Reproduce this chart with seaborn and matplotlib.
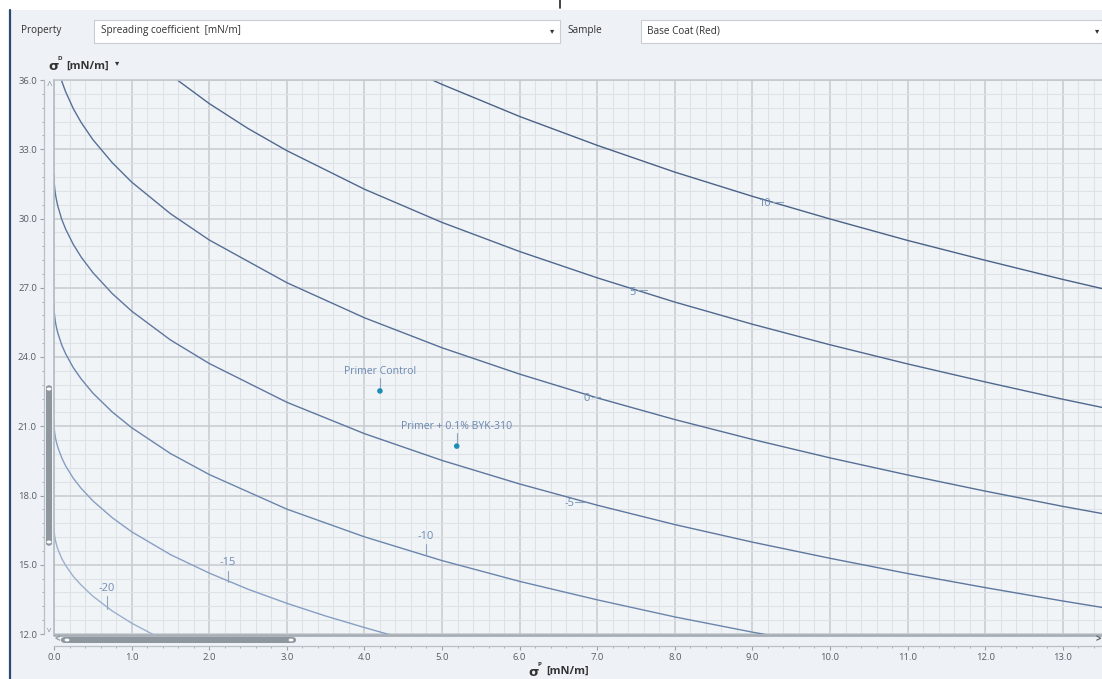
import matplotlib
matplotlib.use("Agg")
import matplotlib.pyplot as plt
import seaborn as sns
from matplotlib.patches import Rectangle, FancyBboxPatch, Circle
from matplotlib.lines import Line2D
from matplotlib.ticker import MultipleLocator, FormatStrFormatter

# ---------------- data ----------------
c10_x = [4.5, 5, 6, 7, 8, 9, 10, 11, 12, 13, 13.6]
c10_y = [36.57, 35.81, 34.42, 33.17, 32.01, 30.96, 29.98, 29.05, 28.19, 27.36, 26.89]

c5_x = [1.25, 1.5, 2, 2.5, 3, 4, 5, 6, 7, 8, 9, 10, 11, 12, 13, 13.6]
c5_y = [36.93, 36.22, 34.98, 33.90, 32.94, 31.27, 29.83, 28.57, 27.43, 26.38, 25.42, 24.53, 23.70, 22.92, 22.17, 21.75]

c0_x = [0.05, 0.1, 0.15, 0.25, 0.35, 0.5, 0.75, 1, 1.5, 2, 3, 4, 5, 6, 7, 8, 9, 10, 11, 12, 13, 13.6]
c0_y = [36.57, 35.95, 35.49, 34.75, 34.16, 33.42, 32.42, 31.58, 30.21, 29.07, 27.22, 25.70, 24.40, 23.26,
        22.23, 21.29, 20.43, 19.63, 18.89, 18.19, 17.53, 17.16]

cm5_x = [0, 0.002, 0.005, 0.01, 0.02, 0.035, 0.05, 0.1, 0.15, 0.25, 0.35, 0.5, 0.75, 1, 1.5, 2, 3, 4, 5,
         6, 7, 8, 9, 10, 11, 12, 13, 13.6]
cm5_y = [31.90, 31.62, 31.46, 31.28, 31.02, 30.75, 30.53, 29.96, 29.54, 28.87, 28.33, 27.66, 26.75, 25.99,
         24.74, 23.72, 22.04, 20.68, 19.52, 18.50, 17.58, 16.74, 15.98, 15.28, 14.62, 14.01, 13.43, 13.10]

cm10_x = [0, 0.002, 0.005, 0.01, 0.02, 0.035, 0.05, 0.1, 0.15, 0.25, 0.35, 0.5, 0.75, 1, 1.5, 2, 3, 4, 5,
          6, 7, 8, 9, 9.3]
cm10_y = [26.28, 26.02, 25.88, 25.72, 25.48, 25.23, 25.03, 24.52, 24.14, 23.53, 23.05, 22.44, 21.62, 20.94,
          19.82, 18.91, 17.41, 16.21, 15.18, 14.28, 13.48, 12.74, 12.08, 11.90]

cm15_x = [0, 0.002, 0.005, 0.01, 0.02, 0.035, 0.05, 0.1, 0.15, 0.25, 0.35, 0.5, 0.75, 1, 1.5, 2, 2.5, 3,
          3.5, 4, 4.4]
cm15_y = [21.20, 20.97, 20.84, 20.69, 20.48, 20.26, 20.08, 19.63, 19.28, 18.74, 18.31, 17.77, 17.04, 16.43,
          15.44, 14.64, 13.94, 13.33, 12.78, 12.28, 11.90]

cm20_x = [0, 0.002, 0.005, 0.01, 0.02, 0.035, 0.05, 0.1, 0.15, 0.25, 0.35, 0.5, 0.75, 1, 1.3]
cm20_y = [16.66, 16.46, 16.35, 16.22, 16.03, 15.83, 15.67, 15.27, 14.97, 14.49, 14.12, 13.64, 13.00, 12.47, 11.94]

contour_levels = ["10", "5", "0", "-5", "-10", "-15", "-20"]

sample_names = ["Primer Control", "Primer + 0.1% BYK-310"]
sample_x = [4.20, 5.19]
sample_y = [22.53, 20.14]

x_ticks = [0, 1, 2, 3, 4, 5, 6, 7, 8, 9, 10, 11, 12, 13]
y_ticks = [12, 15, 18, 21, 24, 27, 30, 33, 36]

# ---------------- styling / layout ----------------
W, H = 1102, 679
sns.set_theme(style="white")
plt.rcParams['font.family'] = ['Open Sans', 'DejaVu Sans']

BG = "#eef1f5"
fig = plt.figure(figsize=(W / 100, H / 100), dpi=100, facecolor=BG)
PT = 0.72  # points per pixel at dpi 100


def fx(px):
    return px / W


def fy(py):
    return 1 - py / H


ax = fig.add_axes([fx(54), fy(634), fx(1102) - fx(54), fy(80) - fy(634)])
ax.set_facecolor("#f1f4f7")
ax.set_xlim(0, (1102 - 54) / 77.6)
ax.set_ylim(12, 36)

ax.xaxis.set_minor_locator(MultipleLocator(0.2))
ax.yaxis.set_minor_locator(MultipleLocator(0.6))
ax.set_xticks(x_ticks)
ax.set_yticks(y_ticks)
ax.xaxis.set_major_formatter(FormatStrFormatter("%.1f"))
ax.yaxis.set_major_formatter(FormatStrFormatter("%.1f"))
ax.grid(which="major", color="#c6cbd0", lw=1.1)
ax.grid(which="minor", color="#dde2e7", lw=0.8)
ax.set_axisbelow(True)

ax.spines["right"].set_visible(False)
ax.spines["top"].set_color("#c2c8ce")
ax.spines["top"].set_linewidth(1.2)
ax.spines["left"].set_position(("outward", 10 * PT))
ax.spines["bottom"].set_position(("outward", 12 * PT))
for s in ["left", "bottom"]:
    ax.spines[s].set_color("#b8bfc6")
    ax.spines[s].set_linewidth(0.9)
ax.tick_params(which="major", direction="out", length=4 * PT, width=0.8, color="#9aa2aa",
               labelsize=6.8, labelcolor="#565e67", pad=3 * PT)
ax.tick_params(which="minor", direction="out", length=2.5 * PT, width=0.7, color="#a8b0b8")
ax.tick_params(axis="y", which="both", left=True)
ax.tick_params(axis="x", which="both", bottom=True)

# contour curves
curves = [(c10_x, c10_y), (c5_x, c5_y), (c0_x, c0_y), (cm5_x, cm5_y),
          (cm10_x, cm10_y), (cm15_x, cm15_y), (cm20_x, cm20_y)]
curve_colors = ["#4a6286", "#4f688d", "#556f95", "#5d779e", "#6a85ac", "#869fc2", "#9bb0ce"]
for (cx, cy), col in zip(curves, curve_colors):
    sns.lineplot(x=cx, y=cy, ax=ax, color=col, lw=1.0, sort=False, estimator=None)
ax.set_xlabel("")
ax.set_ylabel("")

# contour labels with short leader lines
lab_col = "#6f8db5"
lead_col = "#8ea3bd"
label_pos = [(9.16, 30.67), (7.45, 26.80), (6.87, 22.20), (6.64, 17.65),
             (4.79, 16.22), (2.24, 15.09), (0.68, 13.96)]
leaders = [((9.27, 9.40), (30.70, 30.70)), ((7.52, 7.64), (26.90, 26.90)),
           ((6.93, 7.04), (22.28, 22.28)), ((6.71, 6.84), (17.74, 17.74)),
           ((4.79, 4.79), (15.90, 15.36)), ((2.24, 2.24), (14.75, 14.27)),
           ((0.68, 0.68), (13.64, 13.09))]
for lev, (tx, ty), (lx, ly) in zip(contour_levels, label_pos, leaders):
    ax.text(tx, ty, lev, color=lab_col, fontsize=8, ha="center", va="center")
    ax.plot(lx, ly, color=lead_col, lw=0.8)

# sample points
sns.scatterplot(x=sample_x, y=sample_y, ax=ax, color="#1e8db6", s=16, edgecolor="none", zorder=5)
for name, px_, py_ in zip(sample_names, sample_x, sample_y):
    ax.text(px_, py_ + 0.86, name, color="#6a88b0", fontsize=7.6, ha="center", va="center")
    ax.plot([px_, px_], [py_ + 0.55, py_ + 0.12], color="#8ea3bd", lw=0.8)


# ---------------- UI chrome ----------------
def frect(x0, y0, x1, y1, **kw):
    fig.add_artist(Rectangle((fx(x0), fy(y1)), fx(x1) - fx(x0), fy(y0) - fy(y1),
                             transform=fig.transFigure, **kw))


def fline(xs, ys, **kw):
    fig.add_artist(Line2D([fx(v) for v in xs], [fy(v) for v in ys], transform=fig.transFigure, **kw))


frect(0, 0, W, 10, facecolor="white", edgecolor="none")
frect(0, 0, 9, H, facecolor="white", edgecolor="none")
fline([10, 10], [10, H], color="#2c4a6e", lw=1.6)
fline([560, 560], [0, 8], color="#222222", lw=1.2)

# header controls
fig.text(fx(21), fy(31), "Property", fontsize=7.2, color="#333333", va="center", ha="left")
frect(94, 20, 560, 43, facecolor="white", edgecolor="#c9ced3", lw=0.8)
fig.text(fx(101), fy(31), "Spreading coefficient  [mN/m]", fontsize=7.2, color="#333333", va="center")
fig.text(fx(552), fy(31), "▾", fontsize=6, color="#333333", va="center", ha="center",
         family=["DejaVu Sans"])
fig.text(fx(567), fy(31), "Sample", fontsize=7.2, color="#333333", va="center")
frect(641, 20, 1102, 43, facecolor="white", edgecolor="#c9ced3", lw=0.8)
fig.text(fx(647), fy(31), "Base Coat (Red)", fontsize=7.2, color="#333333", va="center")
fig.text(fx(1097), fy(31), "▾", fontsize=6, color="#333333", va="center", ha="center",
         family=["DejaVu Sans"])

# y-axis title
fig.text(fx(48), fy(67), "σ", fontsize=9.5, fontweight="bold", color="#333333", va="center",
         family=["DejaVu Sans"])
fig.text(fx(57), fy(59), "D", fontsize=4.5, fontweight="bold", color="#333333", va="center")
fig.text(fx(66), fy(66), "[mN/m]", fontsize=8, fontweight="bold", color="#333333", va="center")
fig.text(fx(117), fy(63), "▾", fontsize=6, color="#333333", va="center", ha="center",
         family=["DejaVu Sans"])

# x-axis title
fig.text(fx(528), fy(672), "σ", fontsize=9.5, fontweight="bold", color="#333333", va="center",
         family=["DejaVu Sans"])
fig.text(fx(538), fy(664), "P", fontsize=4.5, fontweight="bold", color="#333333", va="center")
fig.text(fx(546), fy(671), "[mN/m]", fontsize=8, fontweight="bold", color="#333333", va="center")

# plot frame lines
fline([54, 54], [80, 634], color="#b5bcc3", lw=1.2)
fline([54, W], [634.5, 634.5], color="#a7aeb5", lw=2.0)

# scrollbars
thumb = "#8e969e"
fig.add_artist(FancyBboxPatch((fx(61), fy(643)), fx(296) - fx(61), fy(637) - fy(643),
                              boxstyle="round,pad=0,rounding_size=0.004",
                              transform=fig.transFigure, facecolor=thumb, edgecolor="none"))
fig.add_artist(FancyBboxPatch((fx(46), fy(546)), fx(52) - fx(46), fy(385) - fy(546),
                              boxstyle="round,pad=0,rounding_size=0.004",
                              transform=fig.transFigure, facecolor=thumb, edgecolor="none"))
for (cx_, cy_) in [(67, 640), (291, 640), (49, 389), (49, 542)]:
    fig.add_artist(Circle((fx(cx_), fy(cy_)), 0.0022, transform=fig.transFigure,
                          facecolor="white", edgecolor="none"))
fig.text(fx(57), fy(640), "<", fontsize=7, color="#8e969e", va="center", ha="center",
         fontweight="bold")
fig.text(fx(1098), fy(640), ">", fontsize=7, color="#555d66", va="center", ha="center",
         fontweight="bold")
fig.text(fx(49), fy(86), "^", fontsize=7, color="#8e969e", va="center", ha="center")
fig.text(fx(49), fy(630), "v", fontsize=6, color="#8e969e", va="center", ha="center")

fig.savefig("out.png", dpi=100, facecolor=BG)
